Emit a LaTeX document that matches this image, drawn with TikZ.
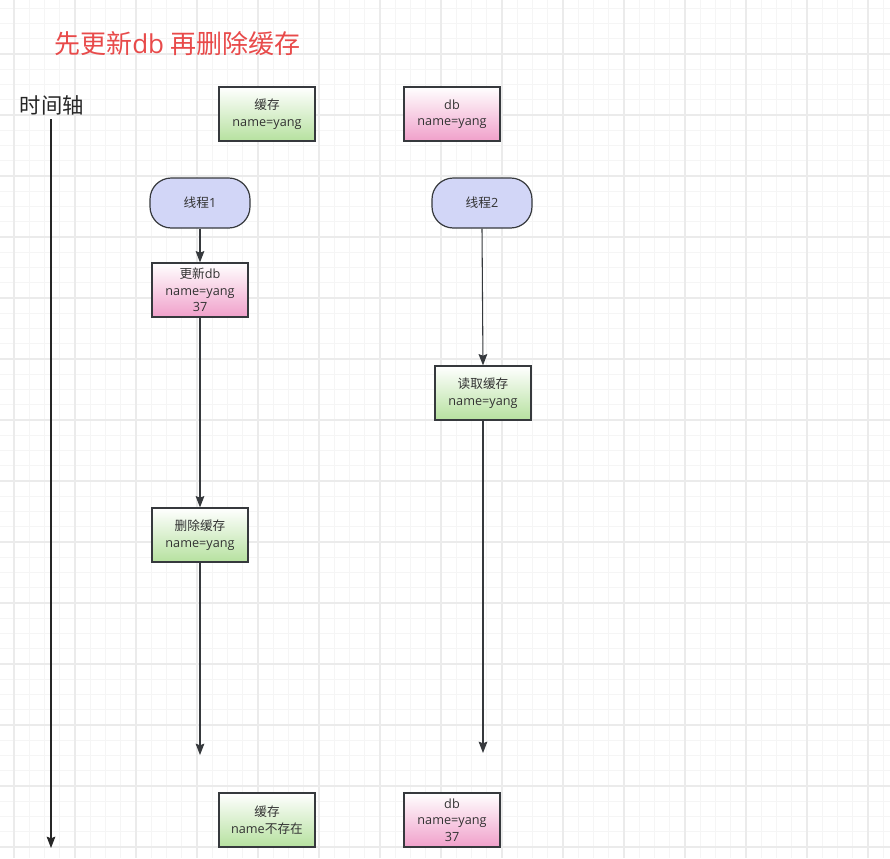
\documentclass[tikz,border=0pt]{standalone}
\usepackage{fontspec}
\setmainfont{Open Sans}
\newfontfamily\cjk{Noto Sans CJK SC}
\usetikzlibrary{arrows.meta}
\definecolor{gridminor}{HTML}{F5F5F5}
\definecolor{gridmajor}{HTML}{EBEBEB}
\definecolor{titlered}{HTML}{E84A4A}
\definecolor{boxline}{HTML}{36393D}
\definecolor{boxtext}{HTML}{333333}
\definecolor{greenbot}{HTML}{B6E19F}
\definecolor{pinkbot}{HTML}{F0A0CA}
\definecolor{lavender}{HTML}{D2D6F7}
\tikzset{
  x=0.75pt, y=-0.75pt,
  gminor/.style={draw=gridminor, line width=0.75pt},
  gmajor/.style={draw=gridmajor, line width=0.9pt},
  basebox/.style={draw=boxline, line width=0.9pt, align=center, text=boxtext,
    font=\fontsize{9.5pt}{12.3pt}\selectfont, inner sep=0pt,
    minimum width=72pt, minimum height=40.5pt},
  greenbox/.style={basebox, top color=white, bottom color=greenbot},
  pinkbox/.style={basebox, top color=white, bottom color=pinkbot},
  thread/.style={basebox, fill=lavender, rounded corners=16pt,
    minimum width=75pt, minimum height=37.5pt},
  flow/.style={draw=boxline, line width=0.8pt,
    -{Stealth[length=8.5pt, width=6.5pt, inset=1.2pt]}},
}
\begin{document}
\begin{tikzpicture}
\useasboundingbox (0,0) rectangle (890,858);
\fill[white] (0,0) rectangle (890,858);
% grid
\foreach \i in {0,...,59} \draw[gminor] ({-1.25+15.25*\i},0) -- ++(0,858);
\foreach \i in {0,...,57} \draw[gminor] (0,{-7+15.25*\i}) -- ++(890,0);
\foreach \i in {0,...,14} \draw[gmajor] ({14+61*\i},0) -- ++(0,858);
\foreach \i in {0,...,13} \draw[gmajor] (0,{54+61*\i}) -- ++(890,0);

% title
\node[anchor=west, text=titlered, font=\fontsize{19.5pt}{22pt}\selectfont, inner sep=0pt]
  (title) at (54,44) {{\cjk 先更新}db {\cjk 再删除缓存}};
% time axis
\node[font=\cjk\fontsize{16pt}{18pt}\selectfont, text=black!85, inner sep=0pt]
  (axis) at (52,105) {时间轴};
\coordinate (axtop) at (51,119);
\coordinate (axend) at (51,848);
\draw[flow, draw=black!85] (axtop) -- (axend);

% top state
\node[greenbox] (cache0) at (267,114) {{\cjk 缓存}\\name=yang};
\node[pinkbox] (db0) at (452,114) {db\\name=yang};

% threads
\node[thread] (t1) at (200,203) {{\cjk 线程}1};
\node[thread] (t2) at (482,203) {{\cjk 线程}2};

% thread 1 steps
\node[pinkbox] (upd) at (200,290) {{\cjk 更新}db\\name=yang\\37};
\node[greenbox] (del) at (200,535) {{\cjk 删除缓存}\\name=yang};
\coordinate (t1end) at (200,755);

% thread 2 steps
\node[greenbox] (read) at (483,393) {{\cjk 读取缓存}\\name=yang};
\coordinate (t2end) at (483,753);

% final state
\node[greenbox] (cache1) at (267,820) {{\cjk 缓存}\\name{\cjk 不存在}};
\node[pinkbox] (db1) at (452,820) {db\\name=yang\\37};

% connectors
\draw[flow] (t1) -- (upd);
\draw[flow] (upd) -- (del);
\draw[flow] (del) -- (t1end);
\draw[flow] (t2.south) -- (read.north);
\draw[flow] (read) -- (t2end);
\end{tikzpicture}
\end{document}
